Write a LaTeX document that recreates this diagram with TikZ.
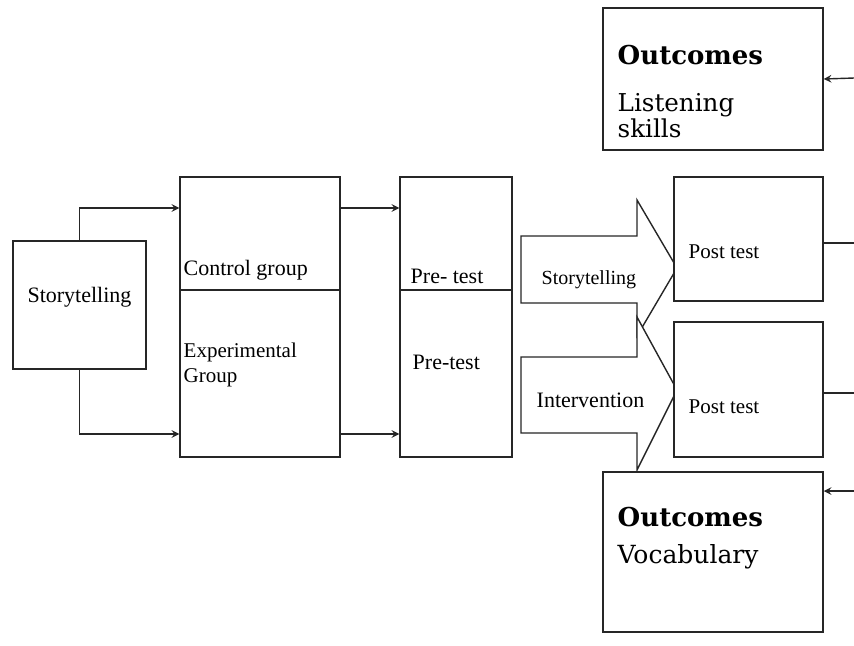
\documentclass[tikz,border=0pt]{standalone}
\usepackage{fontspec}
\setmainfont{Liberation Serif}
\newfontfamily\outfont{DejaVu Serif}
\usepackage{tikz}
\usetikzlibrary{positioning,shapes,arrows}

\begin{document}
\begin{tikzpicture}[x=0.5pt, y=-0.5pt, >=stealth,
  line width=0.7pt, draw=black!85,
  box/.style={draw, fill=white, inner sep=0pt},
  lbl/.style={inner sep=0pt, anchor=west, font=\fontsize{11}{13}\selectfont},
  outlbl/.style={inner sep=0pt, anchor=west, align=left,
    font=\outfont\fontsize{13}{15}\selectfont},
  bigarrow/.style={draw, fill=white, line join=miter}]

\useasboundingbox (0,0) rectangle (854,645);

% boxes
\node [box, minimum width=66.5pt, minimum height=64pt]   (story)   at (79.5,305) {};
\node [box, minimum width=80pt,   minimum height=56.5pt] (control) at (260,233.5) {};
\node [box, minimum width=80pt,   minimum height=83.5pt] (exper)   at (260,373.5) {};
\node [box, minimum width=56pt,   minimum height=56.5pt] (pre1)    at (456,233.5) {};
\node [box, minimum width=56pt,   minimum height=83.5pt] (pre2)    at (456,373.5) {};
\node [box, minimum width=110pt,  minimum height=71pt]   (out1)    at (713,79) {};

% treatment arrows
\draw [bigarrow] (521,236) -- (637,236) -- (637,200) -- (677,268) -- (637,336)
  -- (637,303) -- (521,303) -- cycle;
\draw [bigarrow] (521,357) -- (637,357) -- (637,317) -- (677,390) -- (637,470)
  -- (637,433) -- (521,433) -- cycle;

\node [box, minimum width=74.5pt, minimum height=62pt]   (post1)   at (748.5,239) {};
\node [box, minimum width=74.5pt, minimum height=67.5pt] (post2)   at (748.5,389.5) {};
\node [box, minimum width=110pt,  minimum height=80pt]   (out2)    at (713,552) {};

% texts
\node [inner sep=0pt, font=\fontsize{11}{13}\selectfont] (story-txt) at (79.5,297) {Storytelling};
\node [lbl] (control-txt) at (183,270) {Control group};
\node [lbl, align=left, font=\fontsize{10.5}{12.5}\selectfont] (exper-txt) at (183,365) {Experimental\\Group};
\node [lbl] (pre1-txt) at (410,276) {Pre- test};
\node [lbl] (pre2-txt) at (412,362) {Pre-test};
\node [lbl, font=\fontsize{10}{12}\selectfont] (arrow1-txt) at (541,280) {Storytelling};
\node [lbl] (arrow2-txt) at (536,400) {Intervention};
\node [lbl, font=\fontsize{10.5}{12}\selectfont] (post1-txt) at (688,252) {Post test};
\node [lbl, font=\fontsize{10.5}{12}\selectfont] (post2-txt) at (688,407) {Post test};
\node [outlbl] (out1-head) at (617,55) {\bfseries Outcomes};
\node [outlbl, font=\outfont\fontsize{12.3}{10}\selectfont] (out1-txt) at (617,116) {Listening\\skills};
\node [outlbl] (out2-head) at (617,517) {\bfseries Outcomes};
\node [outlbl, font=\outfont\fontsize{12.5}{15}\selectfont] (out2-txt) at (617,557) {Vocabulary};

% free ends at the right edge
\coordinate (edge-out1)  at (854,78);
\coordinate (edge-post1) at (854,243);
\coordinate (edge-post2) at (854,393);
\coordinate (edge-out2)  at (854,491);

% connectors
\draw [->] (story.north) |- ([yshift=12.75pt]control.west);
\draw [->] (story.south) |- ([yshift=-30.25pt]exper.west);
\draw [->] ([yshift=12.75pt]control.east) -- ([yshift=12.75pt]pre1.west);
\draw [->] ([yshift=-30.25pt]exper.east) -- ([yshift=-30.25pt]pre2.west);

\draw ([yshift=-2pt]post1.east) -- (edge-post1);
\draw [line width=1.2pt] ([yshift=-1.75pt]post2.east) -- (edge-post2);
\draw [->] (edge-out1) -- (out1.east);
\draw [->] (edge-out2) -- ([yshift=30.5pt]out2.east);

\end{tikzpicture}
\end{document}
